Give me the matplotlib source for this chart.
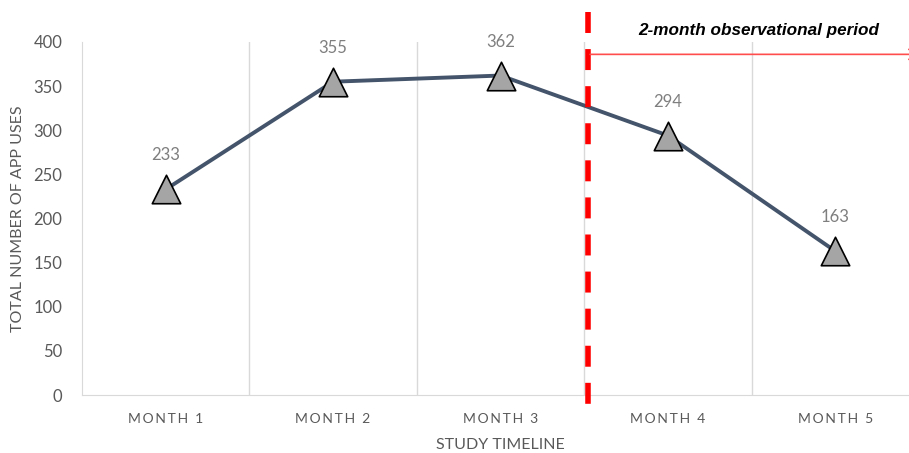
import matplotlib
matplotlib.use("Agg")
import matplotlib.pyplot as plt
import matplotlib.transforms as mtransforms

categories = ["MONTH 1", "MONTH 2", "MONTH 3", "MONTH 4", "MONTH 5"]
app_uses = [233, 355, 362, 294, 163]
y_ticks = [0, 50, 100, 150, 200, 250, 300, 350, 400]
period_text = "2-month observational period"

plt.rcParams['font.family'] = ['Lato', 'DejaVu Sans']
plt.rcParams['lines.scale_dashes'] = False

fig = plt.figure(figsize=(9.09, 4.53), dpi=100)
W, H = 909, 453
left, right, top, bottom = 82, 919, 42, 395
ax = fig.add_axes([left / W, 1 - bottom / H, (right - left) / W, (bottom - top) / H])

x = list(range(len(categories)))
ax.set_xlim(-0.5, len(categories) - 0.5)
ax.set_ylim(0, 400)

# vertical category gridlines
for b in [0.5, 1.5, 2.5, 3.5]:
    ax.axvline(b, color="#D9D9D9", lw=1, zorder=0)

ax.plot(x, app_uses, color="#44546A", lw=2.8, zorder=3)
ax.scatter(x, app_uses, marker="^", s=420, facecolor="#A5A5A5", edgecolor="black",
           linewidth=1.2, zorder=4)
for xi, v in zip(x, app_uses):
    ax.annotate(str(v), (xi, v), xytext=(0, 24.5), textcoords="offset points",
                ha="center", va="center", color="#7F7F7F", fontsize=12)

def spaced(s):
    return "\u2009".join(list(s))

ax.set_yticks(y_ticks)
ax.set_yticklabels([str(t) for t in y_ticks], color="#595959", fontsize=12)
ax.set_xticks(x)
ax.set_xticklabels([spaced(c) for c in categories], color="#595959", fontsize=10)
ax.tick_params(axis="both", length=0)
ax.tick_params(axis="y", pad=14)
ax.tick_params(axis="x", pad=13)
for s in ["top", "right"]:
    ax.spines[s].set_visible(False)
ax.spines["left"].set_color("#D9D9D9")
ax.spines["bottom"].set_color("#D9D9D9")

ax.set_ylabel("TOTAL NUMBER OF APP USES", color="#595959", fontsize=11.5, labelpad=6)
ax.set_xlabel("STUDY TIMELINE", color="#595959", fontsize=11.5, labelpad=9)

# red dashed divider (drawn from top to bottom)
trans = mtransforms.blended_transform_factory(ax.transData, ax.transAxes)
ax.plot([2.52, 2.52], [1.085, -0.034], transform=trans, color="#FF0000", lw=4,
        dashes=(15.1, 11.6), clip_on=False, zorder=5, solid_capstyle="butt",
        dash_capstyle="butt")

# arrow
ax.annotate("", xy=(4.51, 386), xytext=(2.535, 386),
            arrowprops=dict(arrowstyle="->", color="#FF4D4D", lw=1.2,
                            mutation_scale=18, shrinkA=0, shrinkB=0),
            annotation_clip=False, zorder=5)
ax.text(3.54, 413, period_text, ha="center", va="center", fontsize=12.3,
        fontweight="bold", fontstyle="italic", color="black",
        family=["Liberation Sans", "DejaVu Sans"], clip_on=False)

fig.savefig("out.png", dpi=100)
